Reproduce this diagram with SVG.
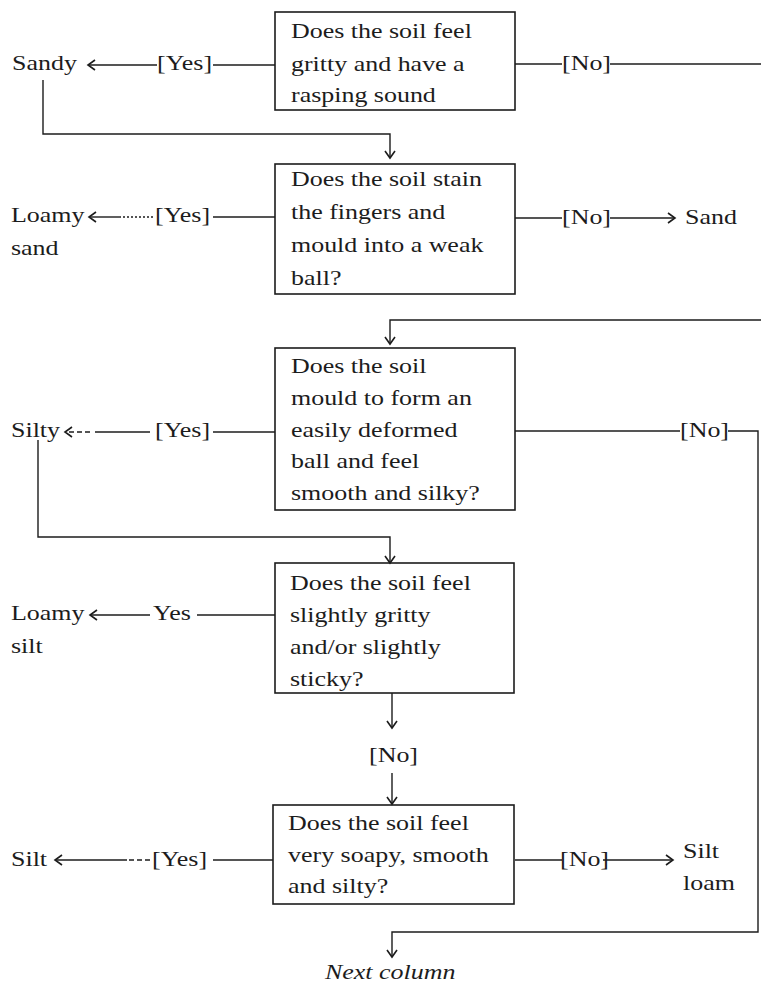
<svg xmlns="http://www.w3.org/2000/svg" width="761" height="985" viewBox="0 0 761 985">
<style>
  text { font-family: "Liberation Serif", "Times New Roman", serif; font-size: 22px; fill: #1c1c1c; }
  .it { font-style: italic; }
  rect.box { fill: none; stroke: #1c1c1c; stroke-width: 1.6; }
  .c { fill: none; stroke: #1c1c1c; stroke-width: 1.4; }
  .dot { stroke-dasharray: 2 2; }
  .dash { stroke-dasharray: 5 3; }
</style>
<defs>
  <marker id="arr" markerWidth="14" markerHeight="14" refX="12" refY="7" orient="auto" markerUnits="userSpaceOnUse">
    <path d="M5,2 L12,7 L5,12" fill="none" stroke="#1c1c1c" stroke-width="1.6"/>
  </marker>
</defs>
<rect width="761" height="985" fill="#ffffff"/>

<g id="connectors">
  <!-- Q1 -->
  <line class="c" x1="213" y1="65" x2="275" y2="65"/>
  <line class="c" x1="157" y1="65" x2="88" y2="65" marker-end="url(#arr)"/>
  <line class="c" x1="515" y1="64" x2="562" y2="64"/>
  <line class="c" x1="610" y1="64" x2="761" y2="64"/>
  <path class="c" d="M43,80 V134 H390 V158" marker-end="url(#arr)"/>
  <!-- Q2 -->
  <line class="c" x1="213" y1="217" x2="275" y2="217"/>
  <line class="c dot" x1="153" y1="217" x2="120" y2="217"/>
  <line class="c" x1="120" y1="217" x2="89" y2="217" marker-end="url(#arr)"/>
  <line class="c" x1="515" y1="218" x2="562" y2="218"/>
  <line class="c" x1="610" y1="218" x2="675" y2="218" marker-end="url(#arr)"/>
  <path class="c" d="M761,320 H390 V344" marker-end="url(#arr)"/>
  <!-- Q3 -->
  <line class="c" x1="213" y1="432" x2="275" y2="432"/>
  <line class="c" x1="150" y1="432" x2="95" y2="432"/>
  <line class="c dash" x1="90" y1="432" x2="65" y2="432" marker-end="url(#arr)"/>
  <line class="c" x1="515" y1="431" x2="680" y2="431"/>
  <path class="c" d="M728,431 H758 V932 H392 V957" marker-end="url(#arr)"/>
  <path class="c" d="M38,440 V537 H390 V563" marker-end="url(#arr)"/>
  <!-- Q4 -->
  <line class="c" x1="197" y1="615" x2="275" y2="615"/>
  <line class="c" x1="150" y1="615" x2="90" y2="615" marker-end="url(#arr)"/>
  <line class="c" x1="392" y1="693" x2="392" y2="728" marker-end="url(#arr)"/>
  <line class="c" x1="392" y1="773" x2="392" y2="804" marker-end="url(#arr)"/>
  <!-- Q5 -->
  <line class="c" x1="213" y1="860" x2="273" y2="860"/>
  <line class="c dash" x1="150" y1="860" x2="127" y2="860"/>
  <line class="c" x1="127" y1="860" x2="55" y2="860" marker-end="url(#arr)"/>
  <line class="c" x1="515" y1="860" x2="562" y2="860"/>
  <line class="c" x1="603" y1="860" x2="673" y2="860" marker-end="url(#arr)"/>

  <!-- labels -->
  <text transform="matrix(1.18 0 0 1 157 70)">[Yes]</text>
  <text transform="matrix(1.18 0 0 1 562 70)">[No]</text>
  <text transform="matrix(1.18 0 0 1 155 222)">[Yes]</text>
  <text transform="matrix(1.18 0 0 1 562 224)">[No]</text>
  <text transform="matrix(1.18 0 0 1 155 437)">[Yes]</text>
  <text transform="matrix(1.18 0 0 1 680 437)">[No]</text>
  <text transform="matrix(1.18 0 0 1 153 620)">Yes</text>
  <text transform="matrix(1.18 0 0 1 369 762)">[No]</text>
  <text transform="matrix(1.18 0 0 1 152 866)">[Yes]</text>
  <text transform="matrix(1.18 0 0 1 560 866)">[No]</text>
</g>

<g id="q1">
  <rect class="box" x="275" y="12" width="240" height="98"/>
  <text transform="matrix(1.18 0 0 1 291 38)"><tspan x="0">Does the soil feel</tspan><tspan x="0" dy="33">gritty and have  a</tspan><tspan x="0" dy="31">rasping sound</tspan></text>
</g>
<g id="q2">
  <rect class="box" x="275" y="164" width="240" height="130"/>
  <text transform="matrix(1.18 0 0 1 291 186)"><tspan x="0">Does the soil stain</tspan><tspan x="0" dy="33">the fingers and</tspan><tspan x="0" dy="33">mould into a weak</tspan><tspan x="0" dy="33">ball?</tspan></text>
</g>
<g id="q3">
  <rect class="box" x="275" y="348" width="240" height="162"/>
  <text transform="matrix(1.18 0 0 1 291 373)"><tspan x="0">Does the soil</tspan><tspan x="0" dy="32">mould to form an</tspan><tspan x="0" dy="32">easily deformed</tspan><tspan x="0" dy="31">ball and feel</tspan><tspan x="0" dy="32">smooth and silky?</tspan></text>
</g>
<g id="q4">
  <rect class="box" x="275" y="563" width="239" height="130"/>
  <text transform="matrix(1.18 0 0 1 290 590)"><tspan x="0">Does the soil feel</tspan><tspan x="0" dy="32">slightly gritty</tspan><tspan x="0" dy="32">and/or slightly</tspan><tspan x="0" dy="32">sticky?</tspan></text>
</g>
<g id="q5">
  <rect class="box" x="273" y="805" width="241" height="99"/>
  <text transform="matrix(1.18 0 0 1 288 830)"><tspan x="0">Does the soil feel</tspan><tspan x="0" dy="32">very soapy, smooth</tspan><tspan x="0" dy="31">and silty?</tspan></text>
</g>

<g id="sandy"><text transform="matrix(1.18 0 0 1 12 70)">Sandy</text></g>
<g id="loamy-sand"><text transform="matrix(1.18 0 0 1 11 222)"><tspan x="0">Loamy</tspan><tspan x="0" dy="33">sand</tspan></text></g>
<g id="sand"><text transform="matrix(1.18 0 0 1 685 224)">Sand</text></g>
<g id="silty"><text transform="matrix(1.18 0 0 1 11 437)">Silty</text></g>
<g id="loamy-silt"><text transform="matrix(1.18 0 0 1 11 620)"><tspan x="0">Loamy</tspan><tspan x="0" dy="33">silt</tspan></text></g>
<g id="silt"><text transform="matrix(1.18 0 0 1 11 866)">Silt</text></g>
<g id="silt-loam"><text transform="matrix(1.18 0 0 1 683 858)"><tspan x="0">Silt</tspan><tspan x="0" dy="32">loam</tspan></text></g>
<g id="next-column"><text class="it" transform="matrix(1.18 0 0 1 325 979)">Next column</text></g>
</svg>
